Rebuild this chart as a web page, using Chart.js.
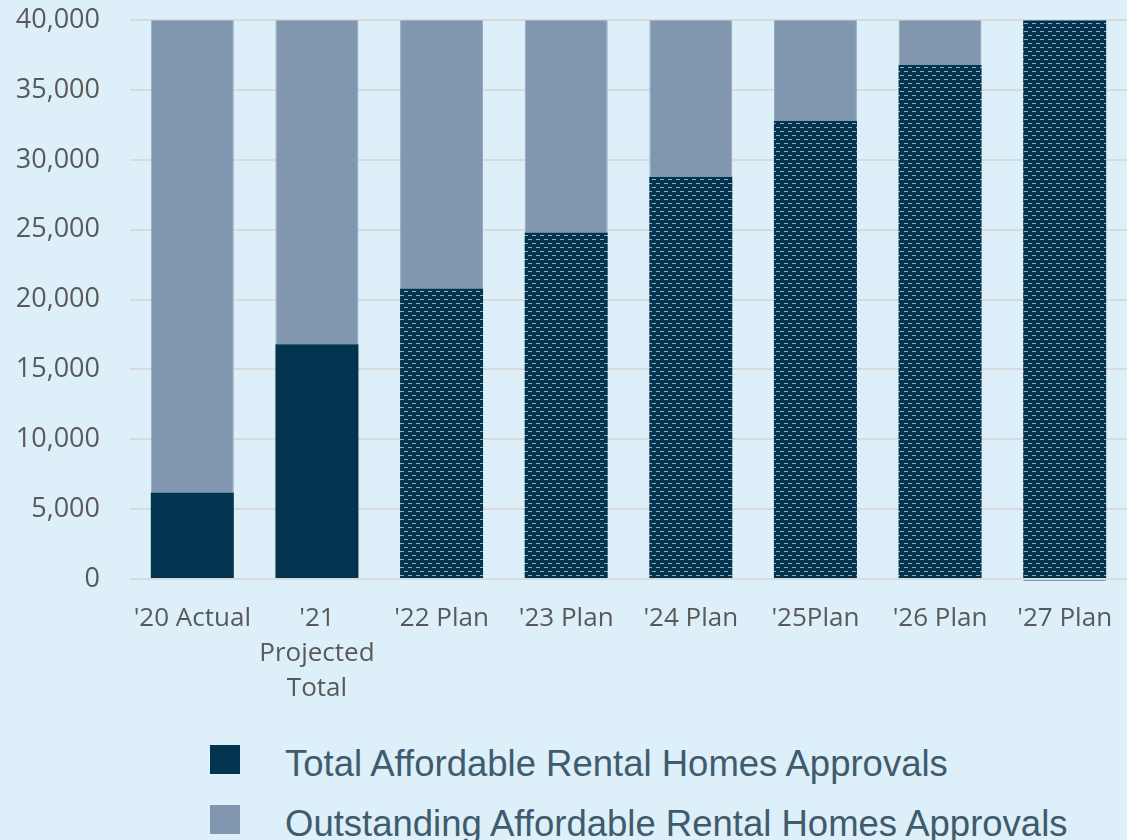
<!DOCTYPE html>
<html>
<head>
<meta charset="utf-8">
<script src="https://cdn.jsdelivr.net/npm/chart.js@4"></script>
<style>
  html, body { margin: 0; padding: 0; background: #DDEFF8; }
  #wrap { position: relative; width: 1127px; height: 840px; overflow: hidden; }
  #box { position: absolute; left: 0; top: -26px; width: 1127px; height: 741px; }
  .leg { position: absolute; left: 210px; height: 30px; font-family: "Liberation Sans", Arial, sans-serif;
         font-size: 36.5px; color: #3F5B6D; white-space: nowrap; }
  .leg i { position: absolute; left: 0; top: 0; width: 30px; height: 29px; }
  .leg span { position: absolute; left: 75px; top: 50%; transform: translateY(-40%); }
</style>
</head>
<body>
<div id="wrap">
  <div id="box"><canvas id="myChart"></canvas></div>
  <div id="legend"></div>
</div>
<script>
// kategorie a hodnoty
var categories = ["'20 Actual", ["'21", "Projected", "Total"], "'22 Plan", "'23 Plan", "'24 Plan", "'25Plan", "'26 Plan", "'27 Plan"];
var totalApprovals = [6200, 16800, 20800, 24800, 28800, 32800, 36800, 40000];
var outstandingApprovals = [33800, 23200, 19200, 15200, 11200, 7200, 3200, -150];
var seriesNames = ['Total Affordable Rental Homes Approvals', 'Outstanding Affordable Rental Homes Approvals'];
var isPlan = [false, false, true, true, true, true, true, true];

var navy = '#03344F';
var slate = '#8197B0';

// vzor pro plánované roky (tmavé pozadí s čárkami)
function makePattern() {
    var c = document.createElement('canvas');
    c.width = 8;
    c.height = 8;
    var g = c.getContext('2d');
    g.fillStyle = navy;
    g.fillRect(0, 0, 8, 8);
    g.fillStyle = '#97ABC3';
    g.fillRect(0, 1, 4, 1);
    g.fillRect(4, 5, 4, 1);
    return g.createPattern(c, 'repeat');
}

document.addEventListener('DOMContentLoaded', function () {
    var pattern = makePattern();
    var totalColors = isPlan.map(function (p) { return p ? pattern : navy; });

    var ctx = document.getElementById('myChart');
    var myChart = new Chart(ctx, {
        type: 'bar',
        data: {
            labels: categories,
            datasets: [{
                label: seriesNames[0],
                data: totalApprovals,
                backgroundColor: totalColors,
                barPercentage: 0.666,
                categoryPercentage: 1
            }, {
                label: seriesNames[1],
                data: outstandingApprovals,
                backgroundColor: slate,
                borderColor: '#95A8BE',
                borderWidth: { left: 1, right: 1 },
                barPercentage: 0.666,
                categoryPercentage: 1,
                clip: false
            }]
        },
        options: {
            responsive: true,
            maintainAspectRatio: false,
            animation: false,
            layout: { padding: { top: 4, right: 0, left: 0, bottom: 0 } },
            scales: {
                x: {
                    stacked: true,
                    grid: { display: false },
                    border: { display: false },
                    ticks: {
                        color: '#595959',
                        font: { family: 'Open Sans', size: 26, lineHeight: 1.35 },
                        padding: 14,
                        maxRotation: 0,
                        autoSkip: false
                    },
                    afterFit: function (scale) { scale.height = 136; }
                },
                y: {
                    stacked: true,
                    min: 0,
                    max: 40000,
                    border: { display: false },
                    grid: { color: '#D8DADB', lineWidth: 2, drawTicks: false },
                    ticks: {
                        stepSize: 5000,
                        color: '#595959',
                        font: { family: 'Open Sans', size: 27 },
                        padding: 30,
                        callback: function (v) { return v.toLocaleString('en-US'); }
                    },
                    afterFit: function (scale) { scale.width = 130; }
                }
            },
            plugins: {
                legend: { display: false },
                tooltip: { enabled: false }
            }
        }
    });

    // legenda pod grafem
    var legend = document.getElementById('legend');
    var swatches = [navy, slate];
    var tops = [745, 805];
    seriesNames.forEach(function (name, i) {
        var d = document.createElement('div');
        d.className = 'leg';
        d.style.top = tops[i] + 'px';
        d.innerHTML = '<i style="background:' + swatches[i] + '"></i><span>' + name + '</span>';
        legend.appendChild(d);
    });
});
</script>
</body>
</html>
